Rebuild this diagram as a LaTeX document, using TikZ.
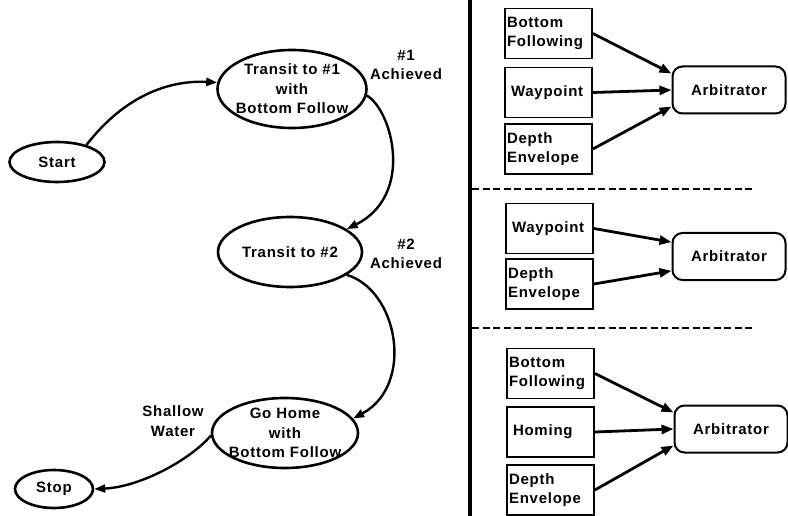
\documentclass[tikz,border=0pt]{standalone}
\usepackage{fontspec}
\setmainfont{Liberation Sans}
\newfontfamily\lblfont{Liberation Sans}[LetterSpace=5]
\usetikzlibrary{shapes.geometric,arrows.meta}
\begin{document}
\begin{tikzpicture}[x=1pt,y=-1pt,
  txt/.style={font=\lblfont\bfseries\fontsize{15}{19.5}\selectfont},
  state/.style={ellipse,draw,line width=2.6pt,inner sep=0pt},
  statetext/.style={txt,align=center,inner sep=0pt},
  trans/.style={line width=2.4pt,-{Triangle[length=11pt,width=8pt]}},
  behav/.style={draw,line width=1.8pt,minimum width=87pt,minimum height=50pt,
                text width=83pt,inner xsep=2pt,align=left,txt},
  arbiter/.style={draw,line width=2pt,rounded corners=10pt,minimum width=113pt,
                  minimum height=47pt,txt},
  vote/.style={line width=2.8pt,-{Triangle[length=12pt,width=9pt]}},
  split/.style={line width=1.4pt,dash pattern=on 7pt off 3.5pt}]
\useasboundingbox (0,0) rectangle (788,516);

% ---- mission state machine ----
\node[state,minimum width=149pt,minimum height=78pt,
      label={[statetext]center:Transit to \#1\\with\\Bottom Follow}] (t1) at (292,89) {};
\node[state,minimum width=95pt,minimum height=40pt,
      label={[statetext]center:Start}] (start) at (57,162) {};
\node[state,minimum width=144pt,minimum height=70pt,
      label={[statetext]center:Transit to \#2}] (t2) at (290,252) {};
\node[state,minimum width=146pt,minimum height=70pt,
      label={[statetext]center:Go Home\\with\\Bottom Follow}] (home) at (285,433) {};
\node[state,minimum width=78pt,minimum height=38pt,
      label={[statetext]center:Stop}] (stop) at (54,489) {};

\node[txt,align=center] (ev1) at (406,65) {\#1\\Achieved};
\node[txt,align=center] (ev2) at (406,254) {\#2\\Achieved};
\node[txt,align=center] (ev3) at (173,421) {Shallow\\Water};

\draw[trans] (start.30) .. controls (125,95) and (170,80) .. (t1.175);
\draw[trans] (t1.-5) .. controls (392,110) and (415,195) .. (t2.22);
\draw[trans] (t2.-22) .. controls (398,290) and (415,385) .. (home.12);
\draw[trans] (home.182) .. controls (190,460) and (140,487) .. (stop.east);

% ---- divider ----
\draw[line width=3.6pt] (470,0) -- (470,516);
\draw[split] (472,189) -- (754,189);
\draw[split] (472,328) -- (754,328);

% ---- behaviours for leg 1 ----
\node[behav] (a1) at (548.5,33.5) {Bottom\\Following};
\node[behav] (a2) at (548.5,92.5) {\hspace*{4pt}Waypoint};
\node[behav] (a3) at (548.5,149) {Depth\\Envelope};
\node[arbiter] (arbA) at (729,90) {Arbitrator};
\draw[vote] (a1.east) -- (arbA.164);
\draw[vote] (a2.east) -- (arbA.west);
\draw[vote] (a3.east) -- (arbA.196);

% ---- behaviours for leg 2 ----
\node[behav] (b1) at (549.5,228.5) {\hspace*{4pt}Waypoint};
\node[behav] (b2) at (549.5,284) {Depth\\Envelope};
\node[arbiter] (arbB) at (729,256.5) {Arbitrator};
\draw[vote] (b1.east) -- (arbB.166);
\draw[vote] (b2.east) -- (arbB.194);

% ---- behaviours for the way home ----
\node[behav] (c1) at (550.5,373.5) {Bottom\\Following};
\node[behav] (c2) at (550.5,432) {\hspace*{4pt}Homing};
\node[behav] (c3) at (550.5,490) {Depth\\Envelope};
\node[arbiter] (arbC) at (731,429) {Arbitrator};
\draw[vote] (c1.east) -- (arbC.164);
\draw[vote] (c2.east) -- (arbC.west);
\draw[vote] (c3.east) -- (arbC.196);
\end{tikzpicture}
\end{document}
